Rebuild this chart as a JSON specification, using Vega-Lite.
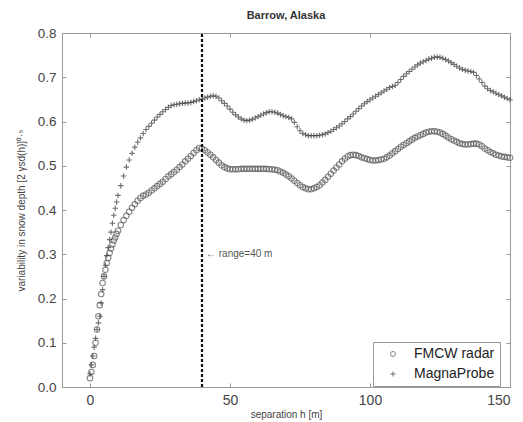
{
  "$schema": "https://vega.github.io/schema/vega-lite/v6.json",
  "width": 448,
  "height": 354,
  "autosize": "none",
  "padding": {"left": 62, "top": 33, "right": 13, "bottom": 35},
  "background": "white",
  "config": {
    "font": "Liberation Sans",
    "view": {"stroke": "#999999", "strokeWidth": 1},
    "axis": {"grid": false, "domainColor": "#999999", "tickColor": "#999999", "labelColor": "#444444", "titleColor": "#444444", "labelFont": "Liberation Sans", "titleFont": "Liberation Sans", "titleFontWeight": "normal"}
  },
  "title": {"text": "Barrow, Alaska", "fontSize": 11, "fontWeight": "bold", "color": "#333333", "offset": 5, "font": "Liberation Sans"},
  "datasets": {
    "pts": [
      {"h":0,"v":0.02,"s":"FMCW radar"},{"h":0.5,"v":0.034,"s":"FMCW radar"},{"h":1,"v":0.05,"s":"FMCW radar"},{"h":1.5,"v":0.07,"s":"FMCW radar"},{"h":2,"v":0.1,"s":"FMCW radar"},{"h":2.5,"v":0.13,"s":"FMCW radar"},{"h":3,"v":0.16,"s":"FMCW radar"},{"h":3.5,"v":0.185,"s":"FMCW radar"},{"h":4,"v":0.21,"s":"FMCW radar"},{"h":4.5,"v":0.235,"s":"FMCW radar"},{"h":5,"v":0.25,"s":"FMCW radar"},{"h":5.5,"v":0.265,"s":"FMCW radar"},{"h":6,"v":0.28,"s":"FMCW radar"},{"h":6.5,"v":0.292,"s":"FMCW radar"},{"h":7,"v":0.303,"s":"FMCW radar"},{"h":7.5,"v":0.313,"s":"FMCW radar"},{"h":8,"v":0.322,"s":"FMCW radar"},{"h":8.5,"v":0.331,"s":"FMCW radar"},{"h":9,"v":0.338,"s":"FMCW radar"},{"h":9.5,"v":0.346,"s":"FMCW radar"},{"h":10,"v":0.353,"s":"FMCW radar"},
      {"h":11,"v":0.366,"s":"FMCW radar"},{"h":12,"v":0.377,"s":"FMCW radar"},{"h":13,"v":0.387,"s":"FMCW radar"},{"h":14,"v":0.396,"s":"FMCW radar"},{"h":15,"v":0.405,"s":"FMCW radar"},{"h":16,"v":0.413,"s":"FMCW radar"},{"h":17,"v":0.421,"s":"FMCW radar"},{"h":18,"v":0.427,"s":"FMCW radar"},{"h":19,"v":0.432,"s":"FMCW radar"},{"h":20,"v":0.435,"s":"FMCW radar"},
      {"h":21,"v":0.439,"s":"FMCW radar"},{"h":22,"v":0.444,"s":"FMCW radar"},{"h":23,"v":0.449,"s":"FMCW radar"},{"h":24,"v":0.454,"s":"FMCW radar"},{"h":25,"v":0.459,"s":"FMCW radar"},{"h":26,"v":0.464,"s":"FMCW radar"},{"h":27,"v":0.47,"s":"FMCW radar"},{"h":28,"v":0.476,"s":"FMCW radar"},{"h":29,"v":0.481,"s":"FMCW radar"},{"h":30,"v":0.486,"s":"FMCW radar"},
      {"h":31,"v":0.491,"s":"FMCW radar"},{"h":32,"v":0.497,"s":"FMCW radar"},{"h":33,"v":0.503,"s":"FMCW radar"},{"h":34,"v":0.51,"s":"FMCW radar"},{"h":35,"v":0.516,"s":"FMCW radar"},{"h":36,"v":0.522,"s":"FMCW radar"},{"h":37,"v":0.529,"s":"FMCW radar"},{"h":38,"v":0.535,"s":"FMCW radar"},{"h":39,"v":0.54,"s":"FMCW radar"},{"h":40,"v":0.539,"s":"FMCW radar"},
      {"h":41,"v":0.535,"s":"FMCW radar"},{"h":42,"v":0.53,"s":"FMCW radar"},{"h":43,"v":0.525,"s":"FMCW radar"},{"h":44,"v":0.519,"s":"FMCW radar"},{"h":45,"v":0.513,"s":"FMCW radar"},{"h":46,"v":0.507,"s":"FMCW radar"},{"h":47,"v":0.501,"s":"FMCW radar"},{"h":48,"v":0.497,"s":"FMCW radar"},{"h":49,"v":0.494,"s":"FMCW radar"},{"h":50,"v":0.492,"s":"FMCW radar"},
      {"h":51,"v":0.492,"s":"FMCW radar"},{"h":52,"v":0.492,"s":"FMCW radar"},{"h":53,"v":0.492,"s":"FMCW radar"},{"h":54,"v":0.493,"s":"FMCW radar"},{"h":55,"v":0.493,"s":"FMCW radar"},{"h":56,"v":0.493,"s":"FMCW radar"},{"h":57,"v":0.493,"s":"FMCW radar"},{"h":58,"v":0.493,"s":"FMCW radar"},{"h":59,"v":0.493,"s":"FMCW radar"},{"h":60,"v":0.493,"s":"FMCW radar"},
      {"h":61,"v":0.493,"s":"FMCW radar"},{"h":62,"v":0.493,"s":"FMCW radar"},{"h":63,"v":0.493,"s":"FMCW radar"},{"h":64,"v":0.492,"s":"FMCW radar"},{"h":65,"v":0.492,"s":"FMCW radar"},{"h":66,"v":0.491,"s":"FMCW radar"},{"h":67,"v":0.49,"s":"FMCW radar"},{"h":68,"v":0.487,"s":"FMCW radar"},{"h":69,"v":0.484,"s":"FMCW radar"},{"h":70,"v":0.48,"s":"FMCW radar"},
      {"h":71,"v":0.476,"s":"FMCW radar"},{"h":72,"v":0.471,"s":"FMCW radar"},{"h":73,"v":0.466,"s":"FMCW radar"},{"h":74,"v":0.461,"s":"FMCW radar"},{"h":75,"v":0.456,"s":"FMCW radar"},{"h":76,"v":0.452,"s":"FMCW radar"},{"h":77,"v":0.449,"s":"FMCW radar"},{"h":78,"v":0.447,"s":"FMCW radar"},{"h":79,"v":0.447,"s":"FMCW radar"},{"h":80,"v":0.449,"s":"FMCW radar"},
      {"h":81,"v":0.452,"s":"FMCW radar"},{"h":82,"v":0.456,"s":"FMCW radar"},{"h":83,"v":0.462,"s":"FMCW radar"},{"h":84,"v":0.468,"s":"FMCW radar"},{"h":85,"v":0.475,"s":"FMCW radar"},{"h":86,"v":0.482,"s":"FMCW radar"},{"h":87,"v":0.489,"s":"FMCW radar"},{"h":88,"v":0.496,"s":"FMCW radar"},{"h":89,"v":0.503,"s":"FMCW radar"},{"h":90,"v":0.51,"s":"FMCW radar"},
      {"h":91,"v":0.516,"s":"FMCW radar"},{"h":92,"v":0.521,"s":"FMCW radar"},{"h":93,"v":0.524,"s":"FMCW radar"},{"h":94,"v":0.525,"s":"FMCW radar"},{"h":95,"v":0.524,"s":"FMCW radar"},{"h":96,"v":0.522,"s":"FMCW radar"},{"h":97,"v":0.519,"s":"FMCW radar"},{"h":98,"v":0.517,"s":"FMCW radar"},{"h":99,"v":0.515,"s":"FMCW radar"},{"h":100,"v":0.513,"s":"FMCW radar"},
      {"h":101,"v":0.512,"s":"FMCW radar"},{"h":102,"v":0.512,"s":"FMCW radar"},{"h":103,"v":0.513,"s":"FMCW radar"},{"h":104,"v":0.514,"s":"FMCW radar"},{"h":105,"v":0.516,"s":"FMCW radar"},{"h":106,"v":0.519,"s":"FMCW radar"},{"h":107,"v":0.523,"s":"FMCW radar"},{"h":108,"v":0.528,"s":"FMCW radar"},{"h":109,"v":0.533,"s":"FMCW radar"},{"h":110,"v":0.538,"s":"FMCW radar"},
      {"h":111,"v":0.543,"s":"FMCW radar"},{"h":112,"v":0.547,"s":"FMCW radar"},{"h":113,"v":0.551,"s":"FMCW radar"},{"h":114,"v":0.555,"s":"FMCW radar"},{"h":115,"v":0.559,"s":"FMCW radar"},{"h":116,"v":0.563,"s":"FMCW radar"},{"h":117,"v":0.566,"s":"FMCW radar"},{"h":118,"v":0.569,"s":"FMCW radar"},{"h":119,"v":0.572,"s":"FMCW radar"},{"h":120,"v":0.575,"s":"FMCW radar"},
      {"h":121,"v":0.577,"s":"FMCW radar"},{"h":122,"v":0.578,"s":"FMCW radar"},{"h":123,"v":0.578,"s":"FMCW radar"},{"h":124,"v":0.577,"s":"FMCW radar"},{"h":125,"v":0.575,"s":"FMCW radar"},{"h":126,"v":0.572,"s":"FMCW radar"},{"h":127,"v":0.568,"s":"FMCW radar"},{"h":128,"v":0.564,"s":"FMCW radar"},{"h":129,"v":0.56,"s":"FMCW radar"},{"h":130,"v":0.557,"s":"FMCW radar"},
      {"h":131,"v":0.554,"s":"FMCW radar"},{"h":132,"v":0.551,"s":"FMCW radar"},{"h":133,"v":0.549,"s":"FMCW radar"},{"h":134,"v":0.548,"s":"FMCW radar"},{"h":135,"v":0.548,"s":"FMCW radar"},{"h":136,"v":0.549,"s":"FMCW radar"},{"h":137,"v":0.55,"s":"FMCW radar"},{"h":138,"v":0.55,"s":"FMCW radar"},{"h":139,"v":0.548,"s":"FMCW radar"},{"h":140,"v":0.544,"s":"FMCW radar"},
      {"h":141,"v":0.539,"s":"FMCW radar"},{"h":142,"v":0.535,"s":"FMCW radar"},{"h":143,"v":0.531,"s":"FMCW radar"},{"h":144,"v":0.528,"s":"FMCW radar"},{"h":145,"v":0.525,"s":"FMCW radar"},{"h":146,"v":0.523,"s":"FMCW radar"},{"h":147,"v":0.521,"s":"FMCW radar"},{"h":148,"v":0.52,"s":"FMCW radar"},{"h":149,"v":0.519,"s":"FMCW radar"},{"h":150,"v":0.518,"s":"FMCW radar"},
      {"h":0,"v":0.03,"s":"MagnaProbe"},{"h":0.5,"v":0.05,"s":"MagnaProbe"},{"h":1,"v":0.07,"s":"MagnaProbe"},{"h":1.5,"v":0.09,"s":"MagnaProbe"},{"h":2,"v":0.11,"s":"MagnaProbe"},{"h":2.5,"v":0.13,"s":"MagnaProbe"},{"h":3,"v":0.145,"s":"MagnaProbe"},{"h":3.5,"v":0.16,"s":"MagnaProbe"},{"h":4,"v":0.19,"s":"MagnaProbe"},{"h":4.5,"v":0.22,"s":"MagnaProbe"},{"h":5,"v":0.25,"s":"MagnaProbe"},{"h":5.5,"v":0.275,"s":"MagnaProbe"},{"h":6,"v":0.297,"s":"MagnaProbe"},{"h":6.5,"v":0.315,"s":"MagnaProbe"},{"h":7,"v":0.333,"s":"MagnaProbe"},{"h":7.5,"v":0.35,"s":"MagnaProbe"},{"h":8,"v":0.37,"s":"MagnaProbe"},{"h":8.5,"v":0.388,"s":"MagnaProbe"},{"h":9,"v":0.404,"s":"MagnaProbe"},{"h":9.5,"v":0.418,"s":"MagnaProbe"},{"h":10,"v":0.433,"s":"MagnaProbe"},
      {"h":11,"v":0.455,"s":"MagnaProbe"},{"h":12,"v":0.477,"s":"MagnaProbe"},{"h":13,"v":0.497,"s":"MagnaProbe"},{"h":14,"v":0.513,"s":"MagnaProbe"},{"h":15,"v":0.528,"s":"MagnaProbe"},{"h":16,"v":0.542,"s":"MagnaProbe"},{"h":17,"v":0.553,"s":"MagnaProbe"},{"h":18,"v":0.563,"s":"MagnaProbe"},{"h":19,"v":0.573,"s":"MagnaProbe"},{"h":20,"v":0.582,"s":"MagnaProbe"},
      {"h":21,"v":0.589,"s":"MagnaProbe"},{"h":22,"v":0.596,"s":"MagnaProbe"},{"h":23,"v":0.603,"s":"MagnaProbe"},{"h":24,"v":0.61,"s":"MagnaProbe"},{"h":25,"v":0.616,"s":"MagnaProbe"},{"h":26,"v":0.622,"s":"MagnaProbe"},{"h":27,"v":0.627,"s":"MagnaProbe"},{"h":28,"v":0.632,"s":"MagnaProbe"},{"h":29,"v":0.636,"s":"MagnaProbe"},{"h":30,"v":0.638,"s":"MagnaProbe"},
      {"h":31,"v":0.639,"s":"MagnaProbe"},{"h":32,"v":0.64,"s":"MagnaProbe"},{"h":33,"v":0.641,"s":"MagnaProbe"},{"h":34,"v":0.642,"s":"MagnaProbe"},{"h":35,"v":0.642,"s":"MagnaProbe"},{"h":36,"v":0.643,"s":"MagnaProbe"},{"h":37,"v":0.645,"s":"MagnaProbe"},{"h":38,"v":0.647,"s":"MagnaProbe"},{"h":39,"v":0.649,"s":"MagnaProbe"},{"h":40,"v":0.651,"s":"MagnaProbe"},
      {"h":41,"v":0.653,"s":"MagnaProbe"},{"h":42,"v":0.655,"s":"MagnaProbe"},{"h":43,"v":0.657,"s":"MagnaProbe"},{"h":44,"v":0.658,"s":"MagnaProbe"},{"h":45,"v":0.657,"s":"MagnaProbe"},{"h":46,"v":0.653,"s":"MagnaProbe"},{"h":47,"v":0.647,"s":"MagnaProbe"},{"h":48,"v":0.641,"s":"MagnaProbe"},{"h":49,"v":0.635,"s":"MagnaProbe"},{"h":50,"v":0.628,"s":"MagnaProbe"},
      {"h":51,"v":0.621,"s":"MagnaProbe"},{"h":52,"v":0.615,"s":"MagnaProbe"},{"h":53,"v":0.61,"s":"MagnaProbe"},{"h":54,"v":0.606,"s":"MagnaProbe"},{"h":55,"v":0.603,"s":"MagnaProbe"},{"h":56,"v":0.602,"s":"MagnaProbe"},{"h":57,"v":0.603,"s":"MagnaProbe"},{"h":58,"v":0.605,"s":"MagnaProbe"},{"h":59,"v":0.608,"s":"MagnaProbe"},{"h":60,"v":0.611,"s":"MagnaProbe"},
      {"h":61,"v":0.614,"s":"MagnaProbe"},{"h":62,"v":0.617,"s":"MagnaProbe"},{"h":63,"v":0.62,"s":"MagnaProbe"},{"h":64,"v":0.622,"s":"MagnaProbe"},{"h":65,"v":0.622,"s":"MagnaProbe"},{"h":66,"v":0.621,"s":"MagnaProbe"},{"h":67,"v":0.619,"s":"MagnaProbe"},{"h":68,"v":0.616,"s":"MagnaProbe"},{"h":69,"v":0.613,"s":"MagnaProbe"},{"h":70,"v":0.611,"s":"MagnaProbe"},
      {"h":71,"v":0.609,"s":"MagnaProbe"},{"h":72,"v":0.606,"s":"MagnaProbe"},{"h":73,"v":0.598,"s":"MagnaProbe"},{"h":74,"v":0.588,"s":"MagnaProbe"},{"h":75,"v":0.579,"s":"MagnaProbe"},{"h":76,"v":0.573,"s":"MagnaProbe"},{"h":77,"v":0.57,"s":"MagnaProbe"},{"h":78,"v":0.568,"s":"MagnaProbe"},{"h":79,"v":0.568,"s":"MagnaProbe"},{"h":80,"v":0.568,"s":"MagnaProbe"},
      {"h":81,"v":0.568,"s":"MagnaProbe"},{"h":82,"v":0.569,"s":"MagnaProbe"},{"h":83,"v":0.57,"s":"MagnaProbe"},{"h":84,"v":0.572,"s":"MagnaProbe"},{"h":85,"v":0.575,"s":"MagnaProbe"},{"h":86,"v":0.578,"s":"MagnaProbe"},{"h":87,"v":0.582,"s":"MagnaProbe"},{"h":88,"v":0.586,"s":"MagnaProbe"},{"h":89,"v":0.59,"s":"MagnaProbe"},{"h":90,"v":0.595,"s":"MagnaProbe"},
      {"h":91,"v":0.6,"s":"MagnaProbe"},{"h":92,"v":0.606,"s":"MagnaProbe"},{"h":93,"v":0.611,"s":"MagnaProbe"},{"h":94,"v":0.617,"s":"MagnaProbe"},{"h":95,"v":0.623,"s":"MagnaProbe"},{"h":96,"v":0.629,"s":"MagnaProbe"},{"h":97,"v":0.635,"s":"MagnaProbe"},{"h":98,"v":0.64,"s":"MagnaProbe"},{"h":99,"v":0.645,"s":"MagnaProbe"},{"h":100,"v":0.649,"s":"MagnaProbe"},
      {"h":101,"v":0.653,"s":"MagnaProbe"},{"h":102,"v":0.657,"s":"MagnaProbe"},{"h":103,"v":0.661,"s":"MagnaProbe"},{"h":104,"v":0.665,"s":"MagnaProbe"},{"h":105,"v":0.669,"s":"MagnaProbe"},{"h":106,"v":0.673,"s":"MagnaProbe"},{"h":107,"v":0.677,"s":"MagnaProbe"},{"h":108,"v":0.679,"s":"MagnaProbe"},{"h":109,"v":0.682,"s":"MagnaProbe"},{"h":110,"v":0.688,"s":"MagnaProbe"},
      {"h":111,"v":0.695,"s":"MagnaProbe"},{"h":112,"v":0.702,"s":"MagnaProbe"},{"h":113,"v":0.708,"s":"MagnaProbe"},{"h":114,"v":0.713,"s":"MagnaProbe"},{"h":115,"v":0.718,"s":"MagnaProbe"},{"h":116,"v":0.723,"s":"MagnaProbe"},{"h":117,"v":0.728,"s":"MagnaProbe"},{"h":118,"v":0.732,"s":"MagnaProbe"},{"h":119,"v":0.735,"s":"MagnaProbe"},{"h":120,"v":0.738,"s":"MagnaProbe"},
      {"h":121,"v":0.741,"s":"MagnaProbe"},{"h":122,"v":0.743,"s":"MagnaProbe"},{"h":123,"v":0.745,"s":"MagnaProbe"},{"h":124,"v":0.746,"s":"MagnaProbe"},{"h":125,"v":0.745,"s":"MagnaProbe"},{"h":126,"v":0.743,"s":"MagnaProbe"},{"h":127,"v":0.74,"s":"MagnaProbe"},{"h":128,"v":0.737,"s":"MagnaProbe"},{"h":129,"v":0.733,"s":"MagnaProbe"},{"h":130,"v":0.729,"s":"MagnaProbe"},
      {"h":131,"v":0.725,"s":"MagnaProbe"},{"h":132,"v":0.721,"s":"MagnaProbe"},{"h":133,"v":0.718,"s":"MagnaProbe"},{"h":134,"v":0.716,"s":"MagnaProbe"},{"h":135,"v":0.714,"s":"MagnaProbe"},{"h":136,"v":0.713,"s":"MagnaProbe"},{"h":137,"v":0.711,"s":"MagnaProbe"},{"h":138,"v":0.704,"s":"MagnaProbe"},{"h":139,"v":0.696,"s":"MagnaProbe"},{"h":140,"v":0.688,"s":"MagnaProbe"},
      {"h":141,"v":0.68,"s":"MagnaProbe"},{"h":142,"v":0.674,"s":"MagnaProbe"},{"h":143,"v":0.67,"s":"MagnaProbe"},{"h":144,"v":0.667,"s":"MagnaProbe"},{"h":145,"v":0.664,"s":"MagnaProbe"},{"h":146,"v":0.661,"s":"MagnaProbe"},{"h":147,"v":0.658,"s":"MagnaProbe"},{"h":148,"v":0.655,"s":"MagnaProbe"},{"h":149,"v":0.652,"s":"MagnaProbe"},{"h":150,"v":0.649,"s":"MagnaProbe"}
    ],
    "range": [{"h": 40, "y0": 0, "y1": 0.8, "v": 0.3, "label": "\u2190 range=40 m"}]
  },
  "layer": [
    {
      "data": {"name": "pts"},
      "mark": {"type": "point", "filled": false, "strokeWidth": 1.1, "size": 30},
      "encoding": {
        "x": {"field": "h", "type": "quantitative", "scale": {"domain": [-10, 150], "nice": false, "zero": false},
              "axis": {"orient": "bottom", "values": [0, 50, 100, 150], "title": "separation h [m]", "titleFontSize": 10, "titlePadding": 2, "labelFontSize": 14, "labelPadding": 10, "tickSize": -4, "domain": false}},
        "y": {"field": "v", "type": "quantitative", "scale": {"domain": [0, 0.8], "nice": false},
              "axis": {"orient": "left", "values": [0, 0.1, 0.2, 0.3, 0.4, 0.5, 0.6, 0.7, 0.8], "title": "variability in snow depth [2 \u03b3sd(h)]\u2070\u00b7\u2075", "titleFontSize": 10, "titlePadding": 11, "labelFontSize": 13.5, "labelPadding": 10, "tickSize": -4, "domain": false}},
        "shape": {"field": "s", "type": "nominal", "scale": {"domain": ["FMCW radar", "MagnaProbe"], "range": ["circle", "M-1,0L1,0M0,-1L0,1"]},
                  "legend": {"title": null, "orient": "none", "legendX": 311, "legendY": 309, "labelFontSize": 14, "labelColor": "#222222", "labelFont": "Liberation Sans", "strokeColor": "#999999", "padding": 5, "symbolSize": 25, "rowPadding": 6, "labelOffset": 14, "symbolOffset": 8, "symbolStrokeWidth": 1}},
        "stroke": {"field": "s", "type": "nominal", "scale": {"domain": ["FMCW radar", "MagnaProbe"], "range": ["#555555", "#333333"]}, "legend": null}
      }
    },
    {
      "data": {"name": "range"},
      "mark": {"type": "rule", "strokeDash": [3, 2], "strokeWidth": 2.2, "color": "#111111"},
      "encoding": {
        "x": {"field": "h", "type": "quantitative", "scale": {"domain": [-10, 150], "nice": false, "zero": false},
              "axis": {"orient": "top", "values": [0, 50, 100, 150], "labels": false, "title": null, "tickSize": -4, "domain": false}},
        "y": {"field": "y0", "type": "quantitative", "scale": {"domain": [0, 0.8], "nice": false},
              "axis": {"orient": "right", "values": [0, 0.1, 0.2, 0.3, 0.4, 0.5, 0.6, 0.7, 0.8], "labels": false, "title": null, "tickSize": -4, "domain": false}},
        "y2": {"field": "y1"}
      }
    },
    {
      "data": {"name": "range"},
      "mark": {"type": "text", "align": "left", "baseline": "middle", "dx": 4, "fontSize": 10, "color": "#555555", "font": "Liberation Sans"},
      "encoding": {
        "x": {"field": "h", "type": "quantitative", "axis": null},
        "y": {"field": "v", "type": "quantitative", "axis": null},
        "text": {"field": "label"}
      }
    }
  ],
  "resolve": {"axis": {"x": "independent", "y": "independent"}}
}
